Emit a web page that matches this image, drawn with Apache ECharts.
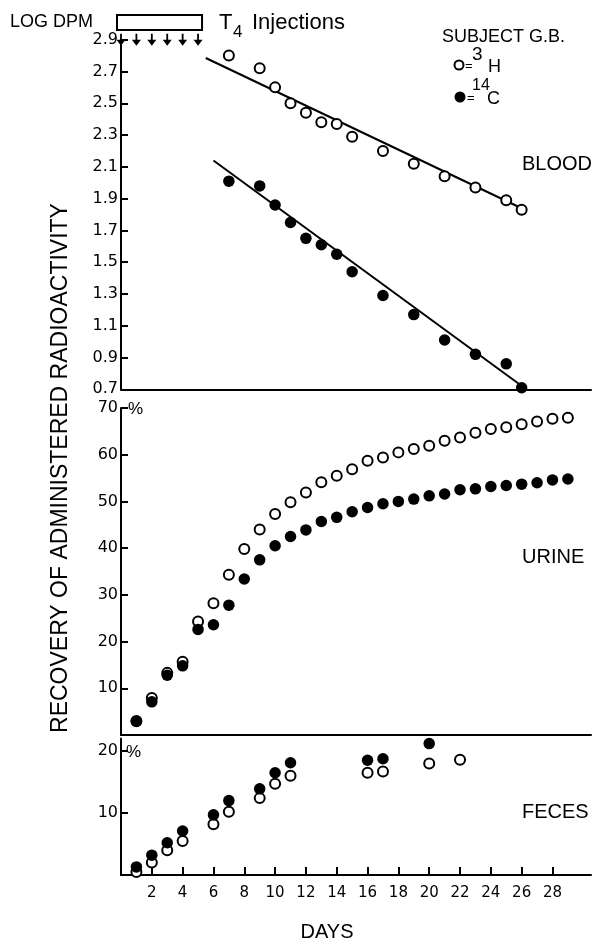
<!DOCTYPE html>
<html>
<head>
<meta charset="utf-8">
<script src="https://cdn.jsdelivr.net/npm/echarts@6/dist/echarts.min.js"></script>
<style>
html,body{margin:0;padding:0;background:#fff;}
#c{width:592px;height:943px;}
</style>
</head>
<body>
<div id="c"></div>
<script>
// ---------- DATA ----------
// Blood: log DPM
const bloodDays = [7, 9, 10, 11, 12, 13, 14, 15, 17, 19, 21, 23, 25, 26];
const blood3H  = [2.80, 2.72, 2.60, 2.50, 2.44, 2.38, 2.37, 2.29, 2.20, 2.12, 2.04, 1.97, 1.89, 1.83];
const blood14C = [2.01, 1.98, 1.86, 1.75, 1.65, 1.61, 1.55, 1.44, 1.29, 1.17, 1.01, 0.92, 0.86, 0.71];
// fitted lines (end points)
const bloodFitDays3H  = [5.5, 26.2];
const bloodFit3H      = [2.785, 1.83];
const bloodFitDays14C = [6.0, 26.3];
const bloodFit14C     = [2.14, 0.70];

// Urine: cumulative % recovery
const urineDays = [1,2,3,4,5,6,7,8,9,10,11,12,13,14,15,16,17,18,19,20,21,22,23,24,25,26,27,28,29];
const urine3H  = [3.0, 7.9, 13.3, 15.7, 24.3, 28.2, 34.3, 39.8, 44.0, 47.3, 49.8, 51.9, 54.1, 55.5, 56.9,
                  58.7, 59.4, 60.5, 61.2, 61.9, 63.0, 63.7, 64.7, 65.5, 65.9, 66.5, 67.1, 67.7, 67.9];
const urine14C = [2.9, 7.1, 12.8, 14.8, 22.6, 23.6, 27.8, 33.4, 37.5, 40.5, 42.5, 43.9, 45.7, 46.6, 47.8,
                  48.7, 49.5, 50.0, 50.5, 51.2, 51.6, 52.5, 52.7, 53.2, 53.4, 53.7, 54.0, 54.6, 54.8];

// Feces: cumulative % recovery
const fecesDays3H  = [1, 2, 3, 4, 6, 7, 9, 10, 11, 16, 17, 20, 22];
const feces3H      = [0.5, 2.0, 4.0, 5.5, 8.2, 10.2, 12.4, 14.7, 16.0, 16.5, 16.7, 18.0, 18.6];
const fecesDays14C = [1, 2, 3, 4, 6, 7, 9, 10, 11, 16, 17, 20];
const feces14C     = [1.3, 3.2, 5.2, 7.1, 9.7, 12.0, 13.9, 16.5, 18.1, 18.5, 18.75, 21.2];

// T4 injections
const injectionDays = [0, 1, 2, 3, 4, 5];
const injectionLevel = [2.9, 2.9, 2.9, 2.9, 2.9, 2.9];

// Tick labels
const dayTicks   = [2, 4, 6, 8, 10, 12, 14, 16, 18, 20, 22, 24, 26, 28];
const bloodTicks = [0.7, 0.9, 1.1, 1.3, 1.5, 1.7, 1.9, 2.1, 2.3, 2.5, 2.7, 2.9];
const urineTicks = [10, 20, 30, 40, 50, 60, 70];
const fecesTicks = [10, 20];

// ---------- CHART ----------
const FONT = '"Liberation Sans", Arial, sans-serif';
const NUMFONT = '"DejaVu Sans", sans-serif';
const pairs = (xs, ys) => xs.map((x, i) => [x, ys[i]]);

const chart = echarts.init(document.getElementById('c'), null, {renderer: 'canvas'});

const LEFT = 121, WIDTH = 470;
const grids = [
  {left: LEFT, width: WIDTH, top: 39.7, height: 349.6},
  {left: LEFT, width: WIDTH, top: 408, height: 327},
  {left: LEFT, width: WIDTH, top: 738.6, height: 136.4}
];

const axLine = {show: true, onZero: false, lineStyle: {color: '#000', width: 2}};

function xAx(i, withTicks) {
  return {
    gridIndex: i, type: 'value', min: 0, max: 30.5,
    axisLine: axLine, splitLine: {show: false},
    axisTick: withTicks ? {show: true, inside: true, length: 8, customValues: dayTicks,
                           lineStyle: {color: '#000', width: 2}} : {show: false},
    axisLabel: withTicks ? {show: true, customValues: dayTicks, margin: 11, color: '#000',
                            fontSize: 15, fontFamily: NUMFONT} : {show: false}
  };
}
function yAx(i, min, max, ticks, fmt) {
  return {
    gridIndex: i, type: 'value', min: min, max: max,
    axisLine: axLine, splitLine: {show: false},
    axisTick: {show: true, inside: true, length: 7, customValues: ticks,
               lineStyle: {color: '#000', width: 2}},
    axisLabel: {show: true, customValues: ticks, margin: 3, color: '#000',
                fontSize: 16, fontFamily: NUMFONT, formatter: fmt}
  };
}

const openStyle = {color: '#fff', borderColor: '#000', borderWidth: 2, opacity: 1};
const fillStyle = {color: '#000', opacity: 1};
function scat(name, xi, data, open) {
  return {
    name: name, type: 'scatter', xAxisIndex: xi, yAxisIndex: xi, data: data,
    symbol: 'circle', symbolSize: open ? 10 : 11.5,
    itemStyle: open ? openStyle : fillStyle, z: open ? 3 : 4, silent: true
  };
}
function fit(data) {
  return {
    name: 'fit', type: 'line', xAxisIndex: 0, yAxisIndex: 0, data: data,
    symbol: 'none', lineStyle: {color: '#000', width: 2}, z: 2, silent: true
  };
}

chart.setOption({
  animation: false,
  backgroundColor: '#fff',
  grid: grids,
  xAxis: [xAx(0, false), xAx(1, false), xAx(2, true)],
  yAxis: [
    yAx(0, 0.7, 2.9, bloodTicks, v => v.toFixed(1)),
    yAx(1, 0, 70, urineTicks, v => String(v)),
    yAx(2, 0, 22, fecesTicks, v => String(v))
  ],
  series: [
    fit(pairs(bloodFitDays3H, bloodFit3H)),
    fit(pairs(bloodFitDays14C, bloodFit14C)),
    scat('³H', 0, pairs(bloodDays, blood3H), true),
    scat('¹⁴C', 0, pairs(bloodDays, blood14C), false),
    scat('³H', 1, pairs(urineDays, urine3H), true),
    scat('¹⁴C', 1, pairs(urineDays, urine14C), false),
    scat('³H', 2, pairs(fecesDays3H, feces3H), true),
    scat('¹⁴C', 2, pairs(fecesDays14C, feces14C), false),
    {
      name: 'T4 injections', type: 'scatter', xAxisIndex: 0, yAxisIndex: 0,
      data: pairs(injectionDays, injectionLevel), clip: false,
      symbol: 'path://M4,0 L6,0 L6,8 L10,8 L5,16 L0,8 L4,8 Z',
      symbolSize: [9, 12], itemStyle: {color: '#000', opacity: 1}, z: 5, silent: true
    }
  ]
});

// ---------- annotations ----------
const p0 = chart.convertToPixel({gridIndex: 0}, [injectionDays[0], 2.9]);
const p5 = chart.convertToPixel({gridIndex: 0}, [injectionDays[injectionDays.length - 1], 2.9]);
const pU = chart.convertToPixel({gridIndex: 1}, [0, 70]);
const pF = chart.convertToPixel({gridIndex: 2}, [0, 20]);

function txt(x, y, text, size, align, extra) {
  return Object.assign({
    type: 'text', x: x, y: y, silent: true,
    style: {text: text, font: size + 'px ' + FONT, fill: '#000',
            align: align || 'left', verticalAlign: 'middle'}
  }, extra || {});
}

chart.setOption({
  graphic: [
    // injection bar
    {type: 'rect', silent: true,
     shape: {x: p0[0] - 4, y: 15, width: (p5[0] - p0[0]) + 8, height: 15},
     style: {fill: '#fff', stroke: '#000', lineWidth: 2}},
    txt(10, 22, 'LOG DPM', 18),
    txt(219, 23, 'T', 22),
    txt(233, 32, '4', 17),
    txt(252, 23, 'Injections', 22),
    // legend
    txt(442, 37, 'SUBJECT G.B.', 18),
    {type: 'circle', silent: true, shape: {cx: 459, cy: 65, r: 4.5},
     style: {fill: '#fff', stroke: '#000', lineWidth: 2}},
    txt(465, 66, '=', 13),
    txt(472, 55, '3', 19),
    txt(488, 67, 'H', 18),
    {type: 'circle', silent: true, shape: {cx: 460, cy: 97, r: 5.5},
     style: {fill: '#000'}},
    txt(467, 98, '=', 13),
    txt(472, 86, '14', 16),
    txt(487, 99, 'C', 18),
    // panel names
    txt(522, 164, 'BLOOD', 20),
    txt(522, 557, 'URINE', 20),
    txt(522, 812, 'FECES', 20),
    // percent marks
    txt(pU[0] + 7, pU[1] + 1, '%', 17),
    txt(pF[0] + 5, pF[1] + 1, '%', 17),
    // axis titles
    txt(327, 932, 'DAYS', 20, 'center'),
    txt(61, 468, 'RECOVERY OF ADMINISTERED RADIOACTIVITY', 23, 'center', {rotation: Math.PI / 2})
  ]
});
</script>
</body>
</html>
